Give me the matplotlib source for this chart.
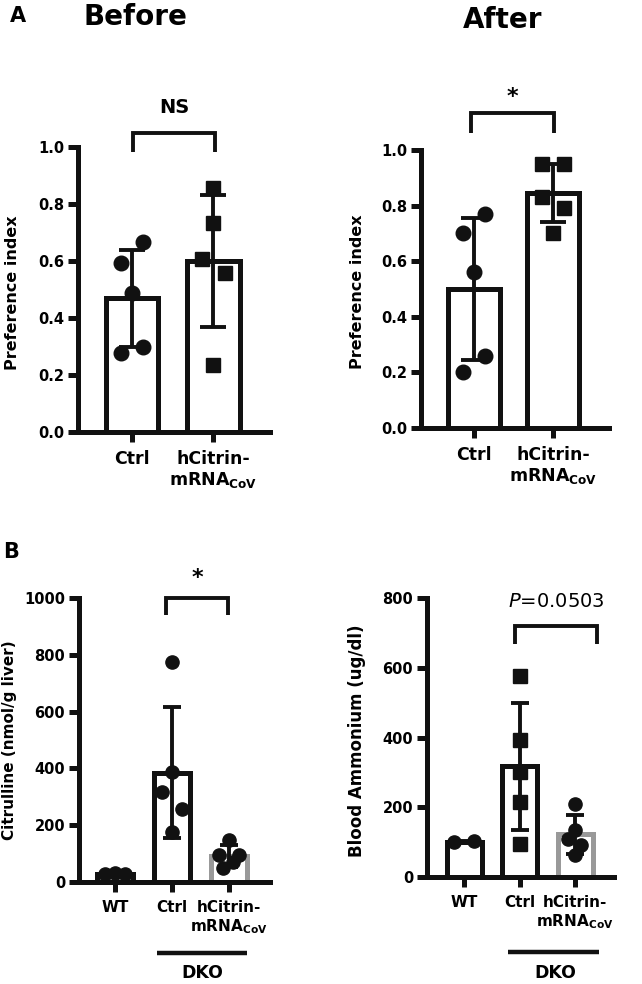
import numpy as np
import matplotlib
matplotlib.use('Agg')
import matplotlib.pyplot as plt
import matplotlib.transforms as mtransforms

plt.rcParams['font.family'] = ['DejaVu Sans']
plt.rcParams['mathtext.fontset'] = 'dejavusans'

# ---- data ----
cats_a = ['Ctrl', 'hCitrin-\nmRNA$_{\\mathbf{CoV}}$']
cats_b = ['WT', 'Ctrl', 'hCitrin-\nmRNA$_{\\mathbf{CoV}}$']

before_ctrl = [0.667, 0.593, 0.488, 0.277, 0.298]
before_hcit = [0.855, 0.733, 0.607, 0.558, 0.235]
before_mean = [0.47, 0.60]
before_sd = [0.17, 0.23]

after_ctrl = [0.70, 0.77, 0.56, 0.26, 0.20]
after_hcit = [0.95, 0.95, 0.83, 0.79, 0.70]
after_mean = [0.50, 0.845]
after_sd = [0.255, 0.105]

cit_wt = [28, 30, 27]
cit_ctrl = [775, 387, 317, 257, 176]
cit_hcit = [148, 95, 95, 70, 49]
cit_mean = [28, 385, 92]
cit_sd = [2, 231, 38]

nh3_wt = [100, 102]
nh3_ctrl = [576, 393, 301, 215, 95]
nh3_hcit = [209, 135, 109, 92, 63]
nh3_mean = [101, 318, 122]
nh3_sd = [2, 182, 56]

# horizontal scatter slots of the dots (GraphPad-style spreading)
slots_before = [[1, -1, 0, -1, 1], [0, 0, -1, 1, 0]]
slots_after = [[-1, 1, 0, 1, -1], [-1, 1, -1, 1, 0]]
slots_cit = [[-1, 0, 1], [0, 0, -1, 1, 0], [0, -1, 1, 0.4, -0.6]]
slots_nh3 = [[-1, 1], [0, 0, 0, 0, 0], [0, 0, -0.7, 0.6, 0]]

LW = 3.6
GREY = '#999999'


def panel(ax, groups, means, sds, slots, markers, edges, width, step, ms, cap, xfs):
    x = np.arange(len(groups))
    ax.bar(x, means, width=width, color='white', edgecolor=edges,
           linewidth=LW, zorder=1)
    for i, vals in enumerate(groups):
        xs = x[i] + np.array(slots[i]) * step
        ax.plot(xs, vals, linestyle='none', marker=markers[i], ms=ms,
                color='#111111', zorder=3, clip_on=False)
    ax.errorbar(x, means, yerr=sds, fmt='none', ecolor='#111111',
                elinewidth=2.8, capsize=cap, capthick=2.8, zorder=4)
    for s in ['top', 'right']:
        ax.spines[s].set_visible(False)
    for s in ['left', 'bottom']:
        ax.spines[s].set_linewidth(LW)
        ax.spines[s].set_color('#111111')
        ax.spines[s].set_capstyle('projecting')
    ax.tick_params(axis='both', width=LW, length=7, color='#111111')
    ax.tick_params(axis='y', labelsize=10.5, pad=3)
    ax.tick_params(axis='x', labelsize=xfs, pad=6)


def finish_labels(ax):
    for lab in ax.get_yticklabels() + ax.get_xticklabels():
        lab.set_fontweight('bold')
    for lab in ax.get_xticklabels():
        lab.set_linespacing(1.15)


def bracket(ax, x0, x1, ylow, ytop, text, ty, **kw):
    ax.plot([x0, x0, x1, x1], [ylow, ytop, ytop, ylow], color='#111111',
            lw=2.8, clip_on=False, solid_capstyle='butt', solid_joinstyle='miter')
    ax.text((x0 + x1) / 2, ty, text, ha='center', va='center', **kw)


def dko(ax, x0, x1, yl, yt, xt):
    tr = mtransforms.blended_transform_factory(ax.transData, ax.transAxes)
    ax.plot([x0, x1], [yl, yl], color='#111111', lw=3.2, transform=tr,
            clip_on=False, solid_capstyle='butt')
    ax.text(xt, yt, 'DKO', transform=tr, ha='center', va='center',
            fontsize=12.5, fontweight='bold')


fig = plt.figure(figsize=(6.42, 9.84), dpi=100)
W, H = 642.0, 984.0


def add_axes(l, r, top, bot):
    return fig.add_axes([l / W, 1 - bot / H, (r - l) / W, (bot - top) / H])


# ---- A: Before ----
ax1 = add_axes(78, 270, 147, 432)
panel(ax1, [before_ctrl, before_hcit], before_mean, before_sd, slots_before,
      ['o', 's'], ['#111111', '#111111'], 0.65, 0.14, 10.5, 9.3, 12.5)
ax1.set_xlim(-0.667, 1.70)
ax1.set_ylim(0, 1.0)
ax1.set_yticks([0, 0.2, 0.4, 0.6, 0.8, 1.0])
ax1.set_yticklabels(['0.0', '0.2', '0.4', '0.6', '0.8', '1.0'])
ax1.set_xticks([0, 1])
ax1.set_xticklabels(cats_a)
finish_labels(ax1)
ax1.set_ylabel('Preference index', fontsize=11.5, fontweight='bold')
ax1.yaxis.set_label_coords(-0.30, 0.49)
bracket(ax1, 0.01, 1.02, 0.982, 1.05, 'NS', 1.14, fontsize=14, fontweight='bold')

# ---- A: After ----
ax2 = add_axes(421, 609, 150, 428)
panel(ax2, [after_ctrl, after_hcit], after_mean, after_sd, slots_after,
      ['o', 's'], ['#111111', '#111111'], 0.65, 0.135, 10.5, 9.3, 12.5)
ax2.set_xlim(-0.67, 1.71)
ax2.set_ylim(0, 1.0)
ax2.set_yticks([0, 0.2, 0.4, 0.6, 0.8, 1.0])
ax2.set_yticklabels(['0.0', '0.2', '0.4', '0.6', '0.8', '1.0'])
ax2.set_xticks([0, 1])
ax2.set_xticklabels(cats_a)
finish_labels(ax2)
ax2.set_ylabel('Preference index', fontsize=11.5, fontweight='bold')
ax2.yaxis.set_label_coords(-0.30, 0.49)
bracket(ax2, -0.04, 1.01, 1.06, 1.133, '*', 1.19, fontsize=16, fontweight='bold')

# ---- B: Citrulline ----
ax3 = add_axes(79, 270, 598, 882)
panel(ax3, [cit_wt, cit_ctrl, cit_hcit], cit_mean, cit_sd, slots_cit,
      ['o', 'o', 'o'], ['#111111', '#111111', GREY], 0.63, 0.175, 9.5, 6.5, 11)
ax3.set_xlim(-0.63, 2.72)
ax3.set_ylim(0, 1000)
ax3.set_yticks([0, 200, 400, 600, 800, 1000])
ax3.set_yticklabels(['0', '200', '400', '600', '800', '1000'])
ax3.set_xticks([0, 1, 2])
ax3.set_xticklabels(cats_b)
finish_labels(ax3)
ax3.set_ylabel('Citrulline (nmol/g liver)', fontsize=11, fontweight='bold')
ax3.yaxis.set_label_coords(-0.325, 0.50)
bracket(ax3, 0.9, 1.98, 940, 1000, '*', 1070, fontsize=16, fontweight='bold')
dko(ax3, 0.74, 2.32, -0.25, -0.322, 1.53)

# ---- B: Blood ammonium ----
ax4 = add_axes(427, 614, 598, 877)
panel(ax4, [nh3_wt, nh3_ctrl, nh3_hcit], nh3_mean, nh3_sd, slots_nh3,
      ['o', 's', 'o'], ['#111111', '#111111', GREY], 0.63, 0.18, 9.5, 6.5, 11)
ax4.set_xlim(-0.67, 2.70)
ax4.set_ylim(0, 800)
ax4.set_yticks([0, 200, 400, 600, 800])
ax4.set_yticklabels(['0', '200', '400', '600', '800'])
ax4.set_xticks([0, 1, 2])
ax4.set_xticklabels(cats_b)
finish_labels(ax4)
ax4.set_ylabel('Blood Ammonium (ug/dl)', fontsize=12, fontweight='bold')
ax4.yaxis.set_label_coords(-0.326, 0.49)
bracket(ax4, 0.91, 2.4, 668, 720, '$P$=0.0503', 789, fontsize=14)
dko(ax4, 0.79, 2.43, -0.27, -0.345, 1.64)

# ---- panel letters and titles ----
fig.text(10 / W, 1 - 16 / H, 'A', fontsize=15, fontweight='bold', va='center')
fig.text(135 / W, 1 - 17 / H, 'Before', fontsize=20, fontweight='bold',
         ha='center', va='center')
fig.text(503 / W, 1 - 20 / H, 'After', fontsize=20, fontweight='bold',
         ha='center', va='center')
fig.text(3 / W, 1 - 552 / H, 'B', fontsize=15, fontweight='bold', va='center')

fig.savefig('out.png', dpi=100)
